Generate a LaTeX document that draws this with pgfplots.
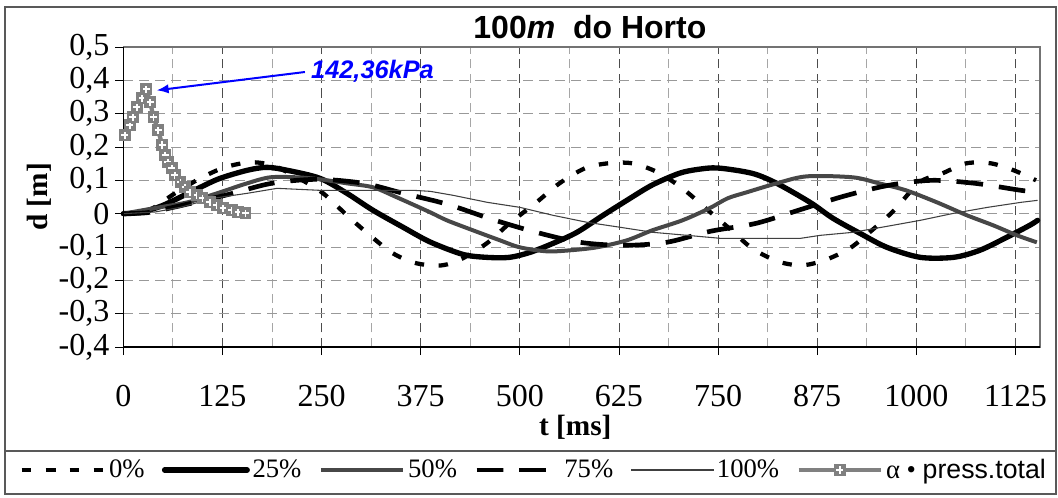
\documentclass[border=0pt]{standalone}
\usepackage{fontspec}
\setmainfont{Liberation Serif}
\setsansfont{Liberation Sans}
\usepackage{pgfplots}
\pgfplotsset{compat=1.18}
\usetikzlibrary{arrows.meta}

% grey square with a white plus, as in the Excel marker
\pgfdeclareplotmark{sqplus}{%
  \pgfpathrectangle{\pgfqpoint{-\pgfplotmarksize}{-\pgfplotmarksize}}{\pgfqpoint{2\pgfplotmarksize}{2\pgfplotmarksize}}%
  \pgfusepath{fill}%
  \pgfsetstrokecolor{white}%
  \pgfsetlinewidth{1.3pt}%
  \pgfpathmoveto{\pgfqpoint{-0.6\pgfplotmarksize}{0pt}}%
  \pgfpathlineto{\pgfqpoint{0.6\pgfplotmarksize}{0pt}}%
  \pgfpathmoveto{\pgfqpoint{0pt}{-0.6\pgfplotmarksize}}%
  \pgfpathlineto{\pgfqpoint{0pt}{0.6\pgfplotmarksize}}%
  \pgfusepath{stroke}%
}

\begin{document}
\begin{tikzpicture}

\begin{axis}[%
width=687.5pt, height=225pt, scale only axis,%
xmin=0, xmax=1156, ymin=-0.4, ymax=0.5,%
clip=false,%
xtick={0,125,250,375,500,625,750,875,1000,1125},%
minor x tick num=1,%
ytick={-0.4,-0.3,-0.2,-0.1,0,0.1,0.2,0.3,0.4,0.5},%
yticklabels={{-0,4},{-0,3},{-0,2},{-0,1},{0},{0,1},{0,2},{0,3},{0,4},{0,5}},%
/pgf/number format/assume math mode=true,%
/pgf/number format/set thousands separator={},%
tick label style={font=\fontsize{24}{26}\selectfont},%
xticklabel style={yshift=-19pt},%
yticklabel style={xshift=-1pt},%
xtick pos=left, ytick pos=left,%
tick align=outside, major tick length=6pt, minor tick length=0pt,%
tick style={black, line width=0.6pt},%
xmajorgrids, xminorgrids, ymajorgrids,%
major x grid style={dash pattern=on 7pt off 4pt, black!70, line width=0.6pt},%
minor x grid style={dash pattern=on 7pt off 4pt, black!35, line width=0.6pt},%
major y grid style={dash pattern=on 7pt off 5pt, black!40, line width=0.6pt},%
axis line style={black!55, line width=0.8pt},%
xlabel={\textbf{t [ms]}},%
ylabel={\textbf{d [m]}},%
label style={font=\fontsize{22}{24}\selectfont},%
xlabel style={at={(axis description cs:0.493,0)}, anchor=center, yshift=-60pt},%
ylabel style={at={(axis description cs:-0.092,0.5)}, anchor=center},%
title={\sffamily\bfseries 100\textit{m}\ \ do Horto},%
title style={at={(axis description cs:0.509,1)}, anchor=center, yshift=9pt, font=\fontsize{24}{26}\selectfont},%
legend columns=6,%
legend style={draw=none, fill=none, at={(axis description cs:-0.118,-0.41)}, anchor=west,%
  font=\fontsize{20}{22}\selectfont,%
  /tikz/every even column/.append style={column sep=11pt}},%
legend image code/.code={\draw[mark repeat=2,mark phase=2,#1] plot coordinates {(0pt,0pt) (31pt,0pt) (62pt,0pt)};},%
]

% 0%
\addplot [black, line width=3.2pt, dash pattern=on 7pt off 11pt, smooth] coordinates {
(0,0) (20,0.003) (37,0.016) (65,0.061) (97,0.106) (128,0.139) (160,0.154) (188,0.145)
(220,0.108) (252,0.061) (282,-0.005) (311,-0.065) (340,-0.119) (370,-0.149) (402,-0.155)
(428,-0.134) (460,-0.086) (487,-0.029) (521,0.034) (550,0.091) (582,0.136) (611,0.151)
(642,0.151) (674,0.124) (705,0.076) (736,0.013) (767,-0.05) (793,-0.104) (825,-0.143)
(855,-0.155) (884,-0.14) (916,-0.104) (944,-0.05) (972,0.01) (1004,0.094) (1033,0.121)
(1063,0.151) (1094,0.151) (1123,0.13) (1151,0.1)
};
\addlegendentry{0\%}

% 25%
\addplot [black, line width=4pt, line cap=round, smooth] coordinates {
(0,0) (21,0.004) (50,0.025) (97,0.079) (122,0.106) (156,0.13) (181,0.139) (207,0.13)
(248,0.106) (282,0.061) (315,0.01) (353,-0.041) (387,-0.085) (428,-0.122) (458,-0.131)
(487,-0.131) (513,-0.116) (542,-0.089) (572,-0.056) (605,-0.005) (635,0.04) (667,0.086)
(701,0.121) (725,0.133) (750,0.137) (793,0.121) (824,0.091) (866,0.034) (895,-0.014)
(929,-0.059) (963,-0.101) (1005,-0.131) (1047,-0.131) (1080,-0.11) (1114,-0.071)
(1143,-0.035) (1153,-0.02)
};
\addlegendentry{25\%}

% 50%
\addplot [black!72, line width=3pt, smooth] coordinates {
(0,0) (38,0.016) (81,0.034) (118,0.061) (156,0.091) (185,0.109) (219,0.109) (248,0.103)
(282,0.091) (315,0.079) (345,0.049) (387,0.004) (408,-0.02) (441,-0.05) (475,-0.08)
(500,-0.101) (534,-0.113) (563,-0.11) (597,-0.101) (635,-0.08) (667,-0.05) (705,-0.02)
(739,0.016) (762,0.046) (786,0.064) (824,0.091) (862,0.112) (920,0.109) (953,0.091)
(987,0.07) (1026,0.034) (1064,-0.005) (1097,-0.035) (1127,-0.065) (1152,-0.086)
};
\addlegendentry{50\%}

% 75%
\addplot [black, line width=3.5pt, dash pattern=on 20pt off 12pt, smooth] coordinates {
(0,0) (30,0.003) (63,0.019) (128,0.055) (187,0.091) (245,0.103) (303,0.091) (353,0.061)
(409,0.028) (465,-0.017) (521,-0.056) (576,-0.086) (631,-0.095) (685,-0.086) (740,-0.053)
(798,-0.029) (851,0.01) (908,0.052) (965,0.085) (1019,0.1) (1074,0.091) (1132,0.07)
(1156,0.064)
};
\addlegendentry{75\%}

% 100%
\addplot [black!75, line width=0.8pt] coordinates {
(0,0) (40,0.005) (72,0.019) (113,0.046) (156,0.061) (194,0.076) (248,0.07) (290,0.07)
(366,0.07) (387,0.067) (416,0.055) (459,0.034) (500,0.019) (542,-0.005) (585,-0.026)
(627,-0.041) (668,-0.056) (711,-0.065) (753,-0.074) (854,-0.074) (879,-0.065) (920,-0.056)
(963,-0.038) (1005,-0.02) (1047,0.001) (1090,0.019) (1132,0.034) (1153,0.04)
};
\addlegendentry{100\%}

% alpha - press.total
\addplot [black!50, line width=3.2pt, mark=sqplus, mark size=4.4pt, mark options={fill=black!50, solid}] coordinates {
(2,0.235) (8,0.265) (12,0.289) (17,0.319) (24,0.346) (29,0.373) (34,0.334) (38,0.289)
(44,0.25) (49,0.206) (53,0.175) (56,0.154) (61,0.136) (65,0.115) (72,0.094) (78,0.079)
(84,0.064) (93,0.055) (100,0.046) (109,0.034) (118,0.025) (126,0.016) (137,0.01)
(145,0.004) (154,0.001)
};
\addlegendentry{α \textbullet\ {\sffamily press.total}}

% black left and bottom axis lines
\draw[black, line width=1pt] (rel axis cs:0,1) -- (rel axis cs:0,0) -- (rel axis cs:1,0);

% annotation
\draw[-{Latex[length=9pt,width=7pt]}, blue, line width=1.5pt] (axis cs:229,0.425) -- (axis cs:42,0.37);
\node[anchor=west, text=blue, font=\sffamily\bfseries\itshape\fontsize{19}{21}\selectfont] at (axis cs:231,0.428) {142,36kPa};

\end{axis}

% chart frame and legend separator
\draw[black!65, line width=1pt] (-88.7pt,-110.25pt) rectangle (699.5pt,255pt);
\draw[black!65, line width=1pt] (-88.7pt,-78pt) -- (699.5pt,-78pt);

\pgfresetboundingbox
\path[use as bounding box] (-92.5pt,-112.5pt) rectangle (701pt,260.25pt);
\end{tikzpicture}
\end{document}
